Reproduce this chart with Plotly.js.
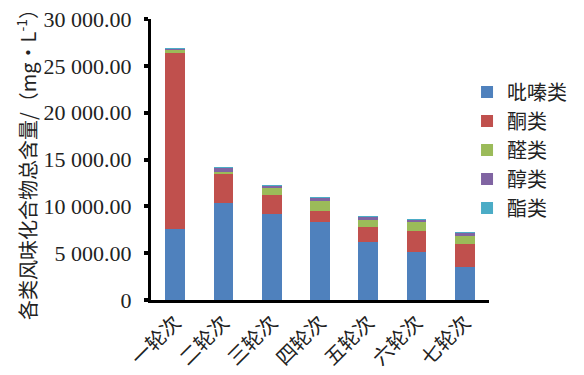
<!DOCTYPE html>
<html>
<head>
<meta charset="utf-8">
<script src="https://cdn.plot.ly/plotly-3.0.1.min.js"></script>
<style>html,body{margin:0;padding:0;background:#fff;}#chart{width:584px;height:375px;}</style>
</head>
<body>
<div id="chart"></div>
<script>
const categories = ["一轮次", "二轮次", "三轮次", "四轮次", "五轮次", "六轮次", "七轮次"];
const seriesNames = ["吡嗪类", "酮类", "醛类", "醇类", "酯类"];
const pyrazines = [7600, 10360, 9210, 8280, 6210, 5110, 3500];
const ketones   = [18820, 3100, 2035, 1250, 1570, 2210, 2500];
const aldehydes = [250, 250, 675, 1070, 785, 965, 785];
const alcohols  = [110, 350, 290, 260, 270, 260, 320];
const esters    = [100, 130, 110, 100, 100, 110, 110];
const yTickVals = [0, 5000, 10000, 15000, 20000, 25000, 30000];
const yTickText = ["0", "5 000.00", "10 000.00", "15 000.00", "20 000.00", "25 000.00", "30 000.00"];

const seriesValues = [pyrazines, ketones, aldehydes, alcohols, esters];
const colors = ["#4F81BD", "#C0504D", "#9BBB59", "#8064A2", "#4BACC6"];

const traces = seriesValues.map((vals, i) => ({
  type: "bar",
  name: seriesNames[i],
  x: categories,
  y: vals,
  marker: {color: colors[i]},
  hoverinfo: "none"
}));

const cjk = "Noto Sans CJK SC";
const layout = {
  width: 584, height: 375,
  margin: {l: 151, r: 79, t: 19, b: 75, pad: 0},
  paper_bgcolor: "#fff", plot_bgcolor: "#fff",
  barmode: "stack",
  bargap: 0.59,
  showlegend: true,
  legend: {
    x: 0.935, xanchor: "left", y: 0.81, yanchor: "top",
    traceorder: "normal",
    font: {family: cjk, size: 20, color: "#222"},
    itemwidth: 30, tracegroupgap: 0,
    bgcolor: "rgba(0,0,0,0)"
  },
  xaxis: {
    type: "category",
    showline: true, linecolor: "#000", linewidth: 3,
    ticks: "", showgrid: false, zeroline: false,
    tickangle: -45,
    tickfont: {family: cjk, size: 20, color: "#222"}
  },
  yaxis: {
    range: [0, 30000],
    showline: true, linecolor: "#000", linewidth: 3,
    ticks: "outside", ticklen: 4, tickwidth: 4, tickcolor: "#000",
    tickvals: yTickVals, ticktext: yTickText,
    ticklabelstandoff: 8,
    showgrid: false, zeroline: false,
    tickfont: {family: "Liberation Serif", size: 22, color: "#222"},
    title: {text: "各类风味化合物总含量/（mg•L<sup>-1</sup>）", font: {family: cjk, size: 20, color: "#222"}}
  }
};

Plotly.newPlot("chart", traces, layout, {staticPlot: true, displayModeBar: false});
</script>
</body>
</html>
